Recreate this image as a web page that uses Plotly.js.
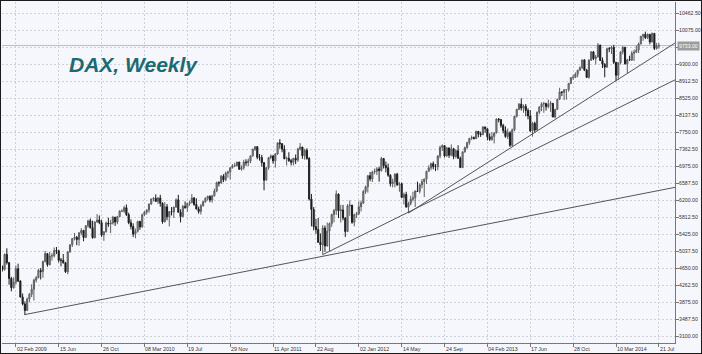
<!DOCTYPE html>
<html><head><meta charset="utf-8">
<script src="https://cdn.plot.ly/plotly-3.0.1.min.js"></script>
<style>html,body{margin:0;padding:0;background:#fff}#chart{width:700px;height:352px;border:1px solid #1a1a1a}</style>
</head><body><div id="chart"></div>
<script>
const weeks = [
'2008-12-22','2008-12-29',
'2009-01-05','2009-01-12','2009-01-19','2009-01-26','2009-02-02','2009-02-09','2009-02-16','2009-02-23','2009-03-02','2009-03-09','2009-03-16','2009-03-23','2009-03-30','2009-04-06','2009-04-13','2009-04-20','2009-04-27','2009-05-04','2009-05-11','2009-05-18','2009-05-25','2009-06-01','2009-06-08','2009-06-15','2009-06-22','2009-06-29','2009-07-06','2009-07-13','2009-07-20','2009-07-27','2009-08-03','2009-08-10','2009-08-17','2009-08-24','2009-08-31','2009-09-07','2009-09-14','2009-09-21','2009-09-28','2009-10-05','2009-10-12','2009-10-19','2009-10-26','2009-11-02','2009-11-09','2009-11-16','2009-11-23','2009-11-30','2009-12-07','2009-12-14','2009-12-21','2009-12-28',
'2010-01-04','2010-01-11','2010-01-18','2010-01-25','2010-02-01','2010-02-08','2010-02-15','2010-02-22','2010-03-01','2010-03-08','2010-03-15','2010-03-22','2010-03-29','2010-04-05','2010-04-12','2010-04-19','2010-04-26','2010-05-03','2010-05-10','2010-05-17','2010-05-24','2010-05-31','2010-06-07','2010-06-14','2010-06-21','2010-06-28','2010-07-05','2010-07-12','2010-07-19','2010-07-26','2010-08-02','2010-08-09','2010-08-16','2010-08-23','2010-08-30','2010-09-06','2010-09-13','2010-09-20','2010-09-27','2010-10-04','2010-10-11','2010-10-18','2010-10-25','2010-11-01','2010-11-08','2010-11-15','2010-11-22','2010-11-29','2010-12-06','2010-12-13','2010-12-20','2010-12-27',
'2011-01-03','2011-01-10','2011-01-17','2011-01-24','2011-01-31','2011-02-07','2011-02-14','2011-02-21','2011-02-28','2011-03-07','2011-03-14','2011-03-21','2011-03-28','2011-04-04','2011-04-11','2011-04-18','2011-04-25','2011-05-02','2011-05-09','2011-05-16','2011-05-23','2011-05-30','2011-06-06','2011-06-13','2011-06-20','2011-06-27','2011-07-04','2011-07-11','2011-07-18','2011-07-25','2011-08-01','2011-08-08','2011-08-15','2011-08-22','2011-08-29','2011-09-05','2011-09-12','2011-09-19','2011-09-26','2011-10-03','2011-10-10','2011-10-17','2011-10-24','2011-10-31','2011-11-07','2011-11-14','2011-11-21','2011-11-28','2011-12-05','2011-12-12','2011-12-19','2011-12-26',
'2012-01-02','2012-01-09','2012-01-16','2012-01-23','2012-01-30','2012-02-06','2012-02-13','2012-02-20','2012-02-27','2012-03-05','2012-03-12','2012-03-19','2012-03-26','2012-04-02','2012-04-09','2012-04-16','2012-04-23','2012-04-30','2012-05-07','2012-05-14','2012-05-21','2012-05-28','2012-06-04','2012-06-11','2012-06-18','2012-06-25','2012-07-02','2012-07-09','2012-07-16','2012-07-23','2012-07-30','2012-08-06','2012-08-13','2012-08-20','2012-08-27','2012-09-03','2012-09-10','2012-09-17','2012-09-24','2012-10-01','2012-10-08','2012-10-15','2012-10-22','2012-10-29','2012-11-05','2012-11-12','2012-11-19','2012-11-26','2012-12-03','2012-12-10','2012-12-17','2012-12-24','2012-12-31',
'2013-01-07','2013-01-14','2013-01-21','2013-01-28','2013-02-04','2013-02-11','2013-02-18','2013-02-25','2013-03-04','2013-03-11','2013-03-18','2013-03-25','2013-04-01','2013-04-08','2013-04-15','2013-04-22','2013-04-29','2013-05-06','2013-05-13','2013-05-20','2013-05-27','2013-06-03','2013-06-10','2013-06-17','2013-06-24','2013-07-01','2013-07-08','2013-07-15','2013-07-22','2013-07-29','2013-08-05','2013-08-12','2013-08-19','2013-08-26','2013-09-02','2013-09-09','2013-09-16','2013-09-23','2013-09-30','2013-10-07','2013-10-14','2013-10-21','2013-10-28','2013-11-04','2013-11-11','2013-11-18','2013-11-25','2013-12-02','2013-12-09','2013-12-16','2013-12-23','2013-12-30',
'2014-01-06','2014-01-13','2014-01-20','2014-01-27','2014-02-03','2014-02-10','2014-02-17','2014-02-24','2014-03-03','2014-03-10','2014-03-17','2014-03-24','2014-03-31','2014-04-07','2014-04-14','2014-04-21','2014-04-28','2014-05-05','2014-05-12','2014-05-19','2014-05-26','2014-06-02','2014-06-09','2014-06-16','2014-06-23','2014-06-30','2014-07-07','2014-07-14','2014-07-21'
];
const open = [
4696,4629,
4973,4783,4424,4214,4338,4645,4366,3999,3843,3695,3953,4062,4177,4384,4439,4607,4577,4808,4991,4738,4933,4941,5063,5052,4839,4838,4782,4576,5028,5191,5332,5360,5309,5463,5518,5357,5624,5738,5581,5353,5713,5755,5696,5414,5488,5687,5663,5686,5817,5709,5831,5957,
5957,6037,5876,5695,5608,5434,5500,5722,5598,5877,5936,5982,6120,6236,6250,6180,6259,6136,5715,6056,5829,5946,5938,6049,6216,5932,5834,6066,6041,6133,6148,6256,6110,6005,5951,6080,6171,6250,6294,6211,6307,6417,6606,6601,6754,6674,6823,6848,6947,6996,6998,7077,
6914,6947,7076,7062,7102,7217,7371,7427,7185,7178,7064,6664,6947,7179,7217,7104,7262,7514,7492,7369,7153,7163,7109,7070,7164,7121,7376,7419,7220,7344,7158,6236,5997,5603,5538,5246,5189,5574,5164,5502,5675,5879,5970,6346,5966,5986,5800,5493,6080,6095,5702,5878,
5898,6057,6143,6404,6512,6766,6692,6849,6864,6921,6880,7157,6996,6947,6775,6583,6625,6801,6561,6580,6271,6339,6050,6130,6229,6263,6416,6410,6557,6630,6689,6865,6944,7041,6971,6971,7214,7412,7451,7216,7398,7232,7380,7204,7335,7163,6950,7309,7405,7518,7614,7636,7612,
7776,7715,7702,7878,7833,7652,7593,7661,7741,8058,8042,7912,7795,7658,7744,7459,7814,8122,8278,8398,8306,8348,8254,8127,7789,7959,7806,8212,8332,8404,8410,8338,8397,8416,8103,8276,8509,8675,8665,8725,8725,8870,9001,9008,9079,9168,9225,9405,9172,9006,9400,9589,
9435,9473,9742,9393,9306,9240,9662,9657,9692,9350,9056,9342,9588,9695,9315,9409,9402,9556,9581,9629,9768,9944,9987,9912,9987,9815,10009,9666,9720
];
const high = [
4720,4990,
5111,4800,4460,4450,4720,4760,4380,4080,3900,3990,4090,4290,4420,4480,4640,4660,4830,5050,5000,5030,5000,5130,5140,5080,4890,4980,4800,5050,5200,5340,5460,5390,5480,5570,5530,5640,5760,5790,5740,5720,5890,5860,5760,5500,5720,5810,5760,5850,5830,5850,5980,6000,
6080,6110,5920,5770,5680,5560,5740,5740,5900,5960,6000,6130,6240,6280,6340,6270,6330,6160,6160,6120,5960,6050,6060,6250,6330,6000,6100,6180,6150,6200,6350,6280,6250,6060,6120,6190,6270,6310,6320,6330,6470,6630,6640,6780,6800,6860,6880,6960,7030,7060,7080,7080,
7000,7130,7140,7160,7230,7380,7440,7440,7260,7240,7070,6960,7190,7250,7230,7280,7520,7600,7510,7460,7200,7300,7150,7170,7250,7400,7510,7420,7380,7390,7190,6350,6050,5780,5800,5450,5640,5630,5700,5700,5900,6010,6430,6360,6100,6100,5820,6120,6200,6100,5900,5940,
6180,6200,6440,6540,6780,6850,6880,6930,6960,6970,7194,7170,7090,7040,6800,6700,6820,6830,6620,6610,6380,6400,6170,6310,6400,6430,6630,6590,6690,6700,6880,7000,7060,7090,7030,7230,7450,7480,7460,7420,7410,7480,7400,7370,7460,7200,7320,7430,7540,7630,7680,7660,7790,
7780,7770,7890,7880,7840,7730,7760,7750,8070,8080,8060,7950,7890,7840,7780,7840,8130,8290,8420,8530,8390,8400,8300,8260,7990,8000,8230,8350,8440,8450,8430,8500,8470,8420,8290,8520,8770,8690,8730,8740,8880,9010,9070,9120,9180,9260,9410,9420,9200,9420,9600,9600,
9520,9790,9750,9460,9330,9670,9700,9720,9750,9360,9350,9600,9720,9700,9430,9500,9610,9640,9730,9800,9950,10000,10050,10010,10000,10030,10020,9790,9790
];
const low = [
4580,4600,
4740,4280,4130,4190,4280,4340,3990,3810,3588,3680,3880,4000,3920,4330,4430,4400,4440,4790,4690,4720,4830,4900,4980,4790,4700,4760,4550,4520,5010,5140,5290,5180,5170,5410,5270,5350,5580,5560,5330,5340,5690,5660,5370,5280,5470,5600,5460,5650,5620,5660,5830,5940,
5920,5850,5660,5540,5370,5340,5470,5530,5580,5840,5880,5920,6100,6180,6170,6120,6060,5670,5700,5750,5610,5860,5800,6040,5930,5700,5820,6010,5940,6080,6140,6080,6000,5900,5880,6060,6150,6200,6160,6150,6290,6390,6520,6580,6620,6640,6720,6680,6930,6960,6970,6900,
6880,6900,6990,6980,7050,7200,7330,7140,7110,6970,6433,6660,6900,7140,7040,6950,7240,7380,7300,7140,7000,7080,7000,7000,7030,7080,7340,7150,7130,7130,6200,5610,5520,5440,5240,5050,4966,5030,5150,5040,5600,5700,5870,5800,5700,5750,5370,5480,5850,5670,5610,5800,
5870,5950,6120,6350,6380,6640,6620,6800,6780,6630,6860,6930,6840,6740,6520,6500,6500,6530,6400,6260,6110,6040,5914,6090,6180,6050,6400,6360,6480,6280,6580,6860,6890,6910,6870,6890,7160,7330,7180,7200,7170,7210,7140,7160,7150,6950,6940,7290,7380,7470,7580,7590,7600,
7640,7650,7690,7740,7570,7560,7560,7500,7730,7980,7860,7730,7630,7600,7420,7430,7780,8090,8260,8250,8200,8120,8050,7760,7655,7750,7800,8170,8240,8200,8250,8300,8220,8100,8070,8270,8490,8580,8490,8500,8680,8850,8950,8990,9010,9160,9200,9150,9000,8980,9380,9400,
9300,9460,9380,9220,9010,9230,9580,9540,9310,8915,8950,9300,9530,9300,9100,9380,9380,9380,9560,9560,9760,9840,9880,9880,9760,9800,9630,9640,9660
];
const close = [
4629,4973,
4783,4424,4214,4338,4645,4366,3999,3843,3695,3953,4062,4177,4384,4439,4607,4577,4808,4991,4738,4933,4941,5063,5052,4839,4838,4782,4576,5028,5191,5332,5360,5309,5463,5518,5357,5624,5738,5581,5353,5713,5755,5696,5414,5488,5687,5663,5686,5817,5709,5831,5957,5957,
6037,5876,5695,5608,5434,5500,5722,5598,5877,5936,5982,6120,6236,6250,6180,6259,6136,5715,6056,5829,5946,5938,6049,6216,5932,5834,6066,6041,6133,6148,6256,6110,6005,5951,6080,6171,6250,6294,6211,6307,6417,6606,6601,6754,6674,6823,6848,6947,6996,6998,7077,6914,
6947,7076,7062,7102,7217,7371,7427,7185,7178,7064,6664,6947,7179,7217,7104,7262,7514,7492,7369,7153,7163,7109,7070,7164,7121,7376,7419,7220,7344,7158,6236,5997,5603,5538,5246,5189,5574,5164,5502,5675,5879,5970,6346,5966,5986,5800,5493,6080,6095,5702,5878,5898,
6057,6143,6404,6512,6766,6692,6849,6864,6921,6880,7157,6996,6947,6775,6583,6625,6801,6561,6580,6271,6339,6050,6130,6229,6263,6416,6410,6557,6630,6689,6865,6944,7041,6971,6971,7214,7412,7451,7216,7398,7232,7380,7204,7335,7163,6950,7309,7405,7518,7614,7636,7612,7776,
7715,7702,7878,7833,7652,7593,7661,7741,8058,8042,7912,7795,7658,7744,7459,7814,8122,8278,8398,8306,8348,8254,8127,7789,7959,7806,8212,8332,8404,8410,8338,8397,8416,8103,8276,8509,8675,8665,8725,8725,8870,9001,9008,9079,9168,9225,9405,9172,9006,9400,9589,9435,
9473,9742,9393,9306,9240,9662,9657,9692,9350,9056,9342,9588,9695,9315,9409,9402,9556,9581,9629,9768,9944,9987,9912,9987,9815,10009,9666,9720,9733
];

const xTickDates = ['2009-02-02','2009-06-15','2009-10-26','2010-03-08','2010-07-19','2010-11-29','2011-04-11','2011-08-22','2012-01-02','2012-05-14','2012-09-24','2013-02-04','2013-06-17','2013-10-28','2014-03-10','2014-07-21'];
const xTickLabels = ['02 Feb 2009','15 Jun','26 Oct','08 Mar 2010','19 Jul','29 Nov','11 Apr 2011','22 Aug','02 Jan 2012','14 May','24 Sep','04 Feb 2013','17 Jun','28 Oct','10 Mar 2014','21 Jul'];
const yTickValues = [3100,3487.5,3875,4262.5,4650,5037.5,5425,5812.5,6200,6587.5,6975,7362.5,7750,8137.5,8525,8912.5,9300,9687.5,10075,10462.5];

const trendA_x = ['2009-03-02','2014-09-09'];
const trendA_y = [3600,6500];
const trendB_x = ['2011-09-12','2014-09-09'];
const trendB_y = [4966,8950];
const trendC_x = ['2012-06-04','2014-09-09'];
const trendC_y = [5914,9790];

const xRange = ['2008-12-21','2014-09-09'];
const yRange = [2952,10725];
const titleText = 'DAX, Weekly';

const lastClose = close[close.length-1];
const FONT = 'Liberation Sans, Arial, sans-serif';
const gridCol = '#cfd0d8';

const traces = [
  {type:'scatter', mode:'lines', x:trendA_x, y:trendA_y, line:{color:'#555', width:1}, hoverinfo:'skip'},
  {type:'scatter', mode:'lines', x:trendB_x, y:trendB_y, line:{color:'#555', width:1}, hoverinfo:'skip'},
  {type:'scatter', mode:'lines', x:trendC_x, y:trendC_y, line:{color:'#555', width:1}, hoverinfo:'skip'},
  {type:'candlestick', x:weeks, open:open, high:high, low:low, close:close,
   increasing:{line:{color:'#5e5e5e', width:1}, fillcolor:'#8e8e8e'},
   decreasing:{line:{color:'#1c1c1c', width:1}, fillcolor:'#1c1c1c'},
   whiskerwidth:0}
];

const annotations = xTickDates.map((d,i)=>({
  x:d, y:0, xref:'x', yref:'paper', xanchor:'left', yanchor:'top',
  text:xTickLabels[i], showarrow:false, borderpad:0, yshift:-2, xshift:0,
  font:{family:FONT, size:5.3, color:'#333'}
}));
annotations.push({
  x:0.0966, y:0.818, xref:'paper', yref:'paper', xanchor:'left', yanchor:'middle',
  text:titleText, showarrow:false,
  font:{family:FONT, size:21, color:'#1b6a72', weight:'bold', style:'italic'}
});
annotations.push({
  x:1, y:lastClose, xref:'paper', yref:'y', xanchor:'left', yanchor:'middle', xshift:2,
  text:lastClose.toFixed(2), showarrow:false, bgcolor:'#9c9c9c', borderpad:1,
  font:{family:FONT, size:5.2, color:'#ffffff'}
});

const layout = {
  width:700, height:352,
  margin:{l:1, r:26, t:1, b:10},
  paper_bgcolor:'#f6f7fc', plot_bgcolor:'#f6f7fc',
  showlegend:false,
  xaxis:{type:'date', range:xRange, tickvals:xTickDates, showticklabels:false,
    ticks:'outside', ticklen:3, tickcolor:'#777',
    showgrid:true, gridcolor:gridCol, griddash:'2px,2px', gridwidth:1,
    showline:true, linecolor:'#777', linewidth:1, zeroline:false,
    rangeslider:{visible:false}, fixedrange:true},
  yaxis:{side:'right', range:yRange, tickvals:yTickValues, ticktext:yTickValues.map(v=>v.toFixed(2)),
    tickfont:{family:FONT, size:5.2, color:'#333'},
    ticks:'outside', ticklen:3, tickcolor:'#777', ticklabelstandoff:-1,
    showgrid:true, gridcolor:gridCol, griddash:'2px,2px', gridwidth:1,
    showline:true, linecolor:'#777', linewidth:1, zeroline:false, fixedrange:true},
  shapes:[{type:'line', xref:'paper', x0:0, x1:1, yref:'y', y0:lastClose, y1:lastClose,
    line:{color:'#bdbdbd', width:1}, layer:'below'}],
  annotations:annotations
};

Plotly.newPlot('chart', traces, layout, {staticPlot:true, displayModeBar:false});
</script></body></html>
